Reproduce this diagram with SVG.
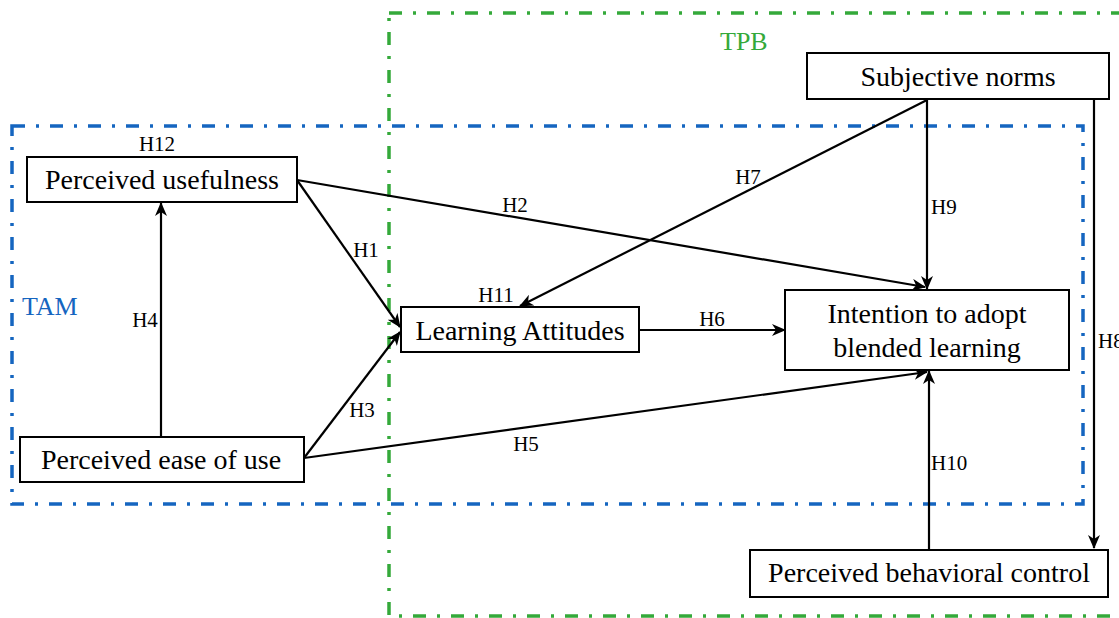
<svg xmlns="http://www.w3.org/2000/svg" width="1119" height="618" viewBox="0 0 1119 618">
<style>
.node rect{fill:#fff;stroke:#000;stroke-width:2}
.node text{font-family:"Liberation Serif","Times New Roman",serif;font-size:28px;fill:#000;text-anchor:middle}
.lbl{font-family:"Liberation Serif","Times New Roman",serif;font-size:21px;fill:#000}
.edge{stroke:#000;stroke-width:2.2;fill:none}
.frame{fill:none;stroke-width:3.5;stroke-dasharray:13 11 3 11}
</style>
<defs>
<marker id="arr" markerUnits="userSpaceOnUse" markerWidth="14" markerHeight="12" viewBox="0 0 14 12" refX="13" refY="6" orient="auto">
<path d="M0,0 L14,6 L0,12 L4,6 Z" fill="#000"/>
</marker>
</defs>
<rect width="1119" height="618" fill="#fff"/>
<g id="frames">
<rect class="frame" x="389" y="13" width="800" height="603" stroke="#34a93a"/>
<rect class="frame" x="12" y="126" width="1071" height="378" stroke="#1565c0"/>
<text x="720" y="50" font-family="Liberation Serif, serif" font-size="26" fill="#34a93a">TPB</text>
<text x="22" y="315" font-family="Liberation Serif, serif" font-size="26" fill="#1565c0">TAM</text>
</g>
<g id="connectors">
<line class="edge" x1="161" y1="437" x2="161" y2="203" marker-end="url(#arr)"/>
<line class="edge" x1="297" y1="180" x2="400" y2="327" marker-end="url(#arr)"/>
<line class="edge" x1="304" y1="458" x2="400" y2="332" marker-end="url(#arr)"/>
<line class="edge" x1="297" y1="180" x2="925" y2="287" marker-end="url(#arr)"/>
<line class="edge" x1="304" y1="458" x2="927" y2="372" marker-end="url(#arr)"/>
<line class="edge" x1="639" y1="330" x2="785" y2="330" marker-end="url(#arr)"/>
<line class="edge" x1="927" y1="100" x2="520" y2="306" marker-end="url(#arr)"/>
<line class="edge" x1="927" y1="100" x2="927" y2="289" marker-end="url(#arr)"/>
<line class="edge" x1="929" y1="550" x2="929" y2="371" marker-end="url(#arr)"/>
<line class="edge" x1="1094" y1="99" x2="1094" y2="548" marker-end="url(#arr)"/>
<text class="lbl" x="366" y="257" text-anchor="middle">H1</text>
<text class="lbl" x="515" y="212" text-anchor="middle">H2</text>
<text class="lbl" x="362" y="417" text-anchor="middle">H3</text>
<text class="lbl" x="145" y="327" text-anchor="middle">H4</text>
<text class="lbl" x="526" y="451" text-anchor="middle">H5</text>
<text class="lbl" x="712" y="326" text-anchor="middle">H6</text>
<text class="lbl" x="748" y="184" text-anchor="middle">H7</text>
<text class="lbl" x="1098" y="348">H8</text>
<text class="lbl" x="931" y="214">H9</text>
<text class="lbl" x="931" y="470">H10</text>
<text class="lbl" x="496" y="302" text-anchor="middle">H11</text>
<text class="lbl" x="157" y="151" text-anchor="middle">H12</text>
</g>
<g id="pu" class="node"><rect x="27" y="157" width="270" height="45"/><text x="162" y="189">Perceived usefulness</text></g>
<g id="peou" class="node"><rect x="20" y="437" width="284" height="45"/><text x="161" y="469">Perceived ease of use</text></g>
<g id="la" class="node"><rect x="401" y="307" width="238" height="45"/><text x="520" y="340">Learning Attitudes</text></g>
<g id="sn" class="node"><rect x="807" y="53" width="302" height="46"/><text x="958" y="86">Subjective norms</text></g>
<g id="int" class="node"><rect x="785" y="290" width="284" height="80"/><text x="927" y="323">Intention to adopt</text><text x="927" y="357">blended learning</text></g>
<g id="pbc" class="node"><rect x="750" y="550" width="358" height="47"/><text x="929" y="582">Perceived behavioral control</text></g>
</svg>
